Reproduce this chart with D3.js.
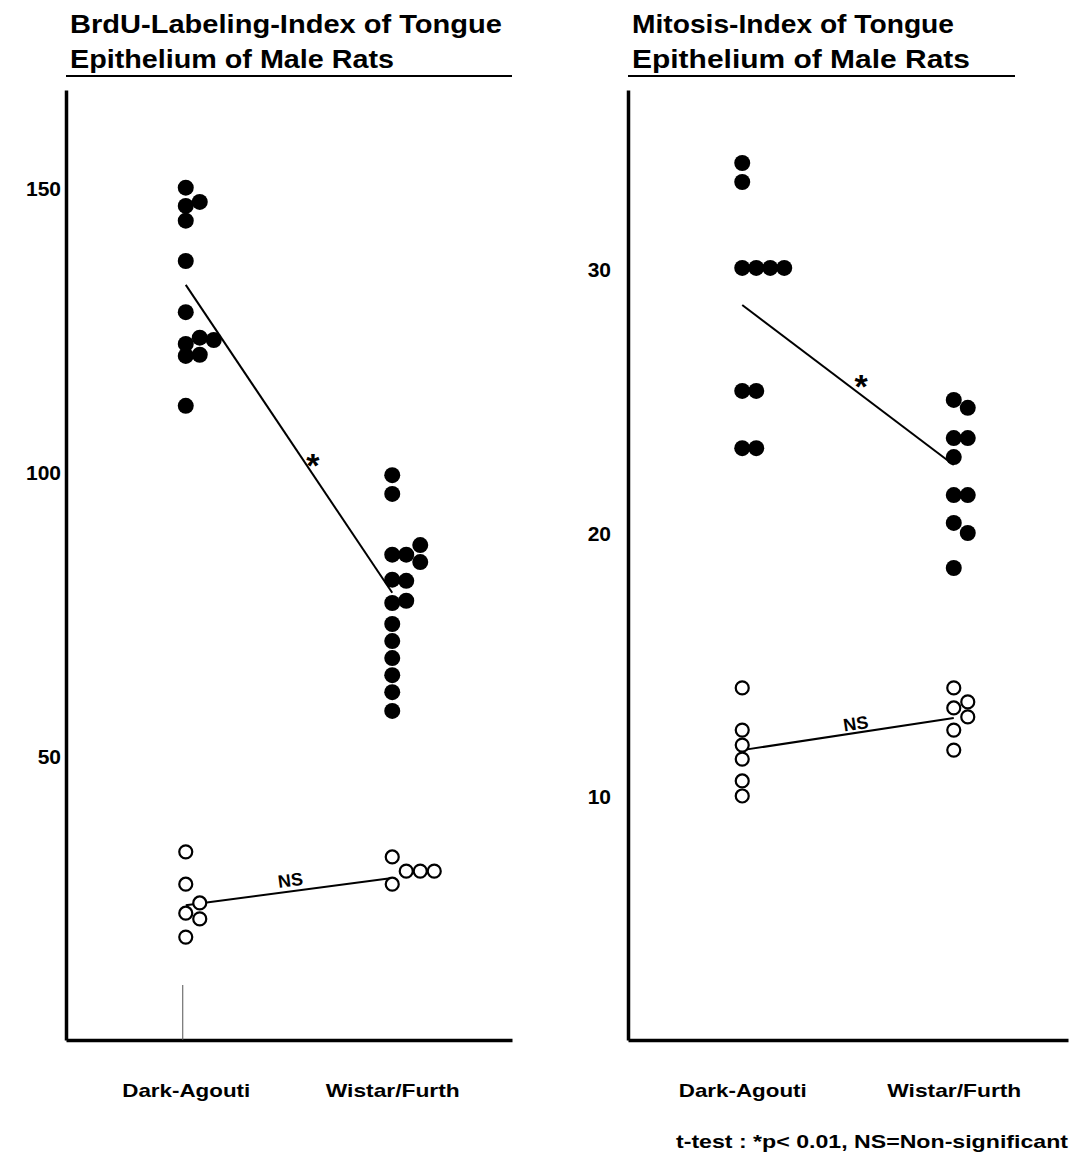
<!DOCTYPE html>
<html>
<head>
<meta charset="utf-8">
<script src="https://cdn.jsdelivr.net/npm/d3@7"></script>
<style>
  body { margin: 0; background: #fff; }
  text { font-family: 'Liberation Sans', Arial, sans-serif; font-weight: bold; fill: #000; }
</style>
</head>
<body>
<div id="chart"></div>
<script>
const CATEGORIES = ['Dark-Agouti', 'Wistar/Furth'];

// BrdU labeling index (filled = labeling, open = control group)
const BRDU_TICKS = [50, 100, 150];
const BRDU_DA_FILLED = [150.2, 147.0, 147.7, 144.4, 137.3, 128.3, 122.7, 120.6, 123.8, 120.8, 123.4, 111.8];
const BRDU_WF_FILLED = [99.6, 96.3, 85.6, 81.2, 77.1, 73.4, 70.4, 67.4, 64.4, 61.4, 58.1, 85.6, 81.0, 77.5, 87.3, 84.3];
const BRDU_DA_OPEN = [33.3, 27.6, 22.5, 18.3, 24.3, 21.5];
const BRDU_WF_OPEN = [32.4, 27.6, 29.9, 29.9, 29.9];
const BRDU_FILLED_MEANS = [133.1, 78.9];
const BRDU_OPEN_MEANS = [23.9, 28.7];

// Mitosis index
const MITOSIS_TICKS = [10, 20, 30];
const MITOSIS_DA_FILLED = [34.06, 33.34, 30.08, 30.08, 30.08, 30.08, 25.41, 25.41, 23.24, 23.24];
const MITOSIS_WF_FILLED = [25.07, 24.77, 23.62, 23.62, 22.90, 21.46, 21.46, 20.40, 20.02, 18.69];
const MITOSIS_DA_OPEN = [14.14, 12.54, 11.97, 11.44, 10.61, 10.04];
const MITOSIS_WF_OPEN = [14.14, 13.38, 12.54, 11.78, 13.61, 13.04];
const MITOSIS_FILLED_MEANS = [28.67, 22.6];
const MITOSIS_OPEN_MEANS = [11.78, 13.0];

const FOOTNOTE = 't-test :  *p< 0.01,  NS=Non-significant';

const WIDTH = 1072, HEIGHT = 1176;
const AXIS_TOP = 90, AXIS_BOTTOM = 1040;
const LANE = 14;
const R_FILLED = 8, R_OPEN = 6.5;
const XLABEL_WIDTHS = [128, 134];

const PANELS = [
  {
    title: ['BrdU-Labeling-Index of Tongue', 'Epithelium of Male Rats'],
    titleWidths: [432, 324],
    x0: 66, x1: 512, underline: [66, 512], pad: 0.58,
    domain: [0.18, 167.4],
    ticks: BRDU_TICKS, tickPad: 5,
    series: [
      { values: [BRDU_DA_FILLED, BRDU_WF_FILLED], means: BRDU_FILLED_MEANS, filled: true, gap: 11,
        label: '*', t: 0.616, dy: 2 },
      { values: [BRDU_DA_OPEN, BRDU_WF_OPEN], means: BRDU_OPEN_MEANS, filled: false, gap: 15,
        label: 'NS', t: 0.514, dy: -5 }
    ],
    stub: true
  },
  {
    title: ['Mitosis-Index of Tongue', 'Epithelium of Male Rats'],
    titleWidths: [322, 338],
    x0: 628, x1: 1068, underline: [628, 1015], pad: 0.54,
    domain: [0.78, 36.83],
    ticks: MITOSIS_TICKS, tickPad: 17,
    series: [
      { values: [MITOSIS_DA_FILLED, MITOSIS_WF_FILLED], means: MITOSIS_FILLED_MEANS, filled: true, gap: 11,
        label: '*', t: 0.562, dy: 3 },
      { values: [MITOSIS_DA_OPEN, MITOSIS_WF_OPEN], means: MITOSIS_OPEN_MEANS, filled: false, gap: 11,
        label: 'NS', t: 0.543, dy: -3 }
    ],
    stub: false
  }
];

// simple greedy dot-plot layout: push a dot one lane right while it collides
function swarm(values, y, gap) {
  const placed = [];
  values.forEach(v => {
    const py = y(v);
    let lane = 0;
    while (placed.some(p => p.lane === lane && Math.abs(p.y - py) < gap)) lane++;
    placed.push({ v, y: py, lane });
  });
  return placed;
}

const svg = d3.select('#chart').append('svg')
  .attr('width', WIDTH)
  .attr('height', HEIGHT);

PANELS.forEach(panel => {
  const g = svg.append('g');

  const x = d3.scalePoint()
    .domain(CATEGORIES)
    .range([panel.x0, panel.x1])
    .padding(panel.pad);
  const y = d3.scaleLinear()
    .domain(panel.domain)
    .range([AXIS_BOTTOM, AXIS_TOP]);

  // Title + underline
  panel.title.forEach((t, i) => {
    g.append('text')
      .attr('x', panel.underline[0] + 4)
      .attr('y', 33 + i * 35)
      .attr('font-size', 25)
      .attr('textLength', panel.titleWidths[i])
      .attr('lengthAdjust', 'spacingAndGlyphs')
      .text(t);
  });
  g.append('line')
    .attr('x1', panel.underline[0]).attr('x2', panel.underline[1])
    .attr('y1', 76).attr('y2', 76)
    .style('stroke', '#000').style('stroke-width', 2);

  // Axes
  const yAxis = g.append('g')
    .attr('transform', `translate(${panel.x0},0)`)
    .call(d3.axisLeft(y).tickValues(panel.ticks).tickSize(0).tickPadding(panel.tickPad).tickFormat(d3.format('d')));
  yAxis.select('.domain').style('stroke-width', 3.5);
  yAxis.selectAll('text')
    .attr('font-size', 21)
    .style('font-family', null);

  const xAxis = g.append('g')
    .attr('transform', `translate(0,${AXIS_BOTTOM})`)
    .call(d3.axisBottom(x).tickSize(0).tickPadding(44));
  xAxis.select('.domain').style('stroke-width', 3.5);
  xAxis.selectAll('text')
    .attr('font-size', 19)
    .attr('textLength', (d, i) => XLABEL_WIDTHS[i])
    .attr('lengthAdjust', 'spacingAndGlyphs')
    .style('font-family', null);

  if (panel.stub) {
    g.append('line')
      .attr('x1', x(CATEGORIES[0]) - 3).attr('x2', x(CATEGORIES[0]) - 3)
      .attr('y1', AXIS_BOTTOM - 55).attr('y2', AXIS_BOTTOM)
      .style('stroke', '#555').style('stroke-width', 1);
  }

  // Mean lines
  panel.series.forEach(s => {
    const p0 = [x(CATEGORIES[0]), y(s.means[0])];
    const p1 = [x(CATEGORIES[1]), y(s.means[1])];
    g.append('line')
      .attr('x1', p0[0]).attr('y1', p0[1])
      .attr('x2', p1[0]).attr('y2', p1[1])
      .style('stroke', '#000').style('stroke-width', 2);
    s.p0 = p0; s.p1 = p1;
  });

  // Dots
  panel.series.forEach(s => {
    CATEGORIES.forEach((c, ci) => {
      const dots = swarm(s.values[ci], y, s.gap);
      g.selectAll(null)
        .data(dots)
        .enter().append('circle')
          .attr('cx', d => x(c) + d.lane * LANE)
          .attr('cy', d => d.y)
          .attr('r', s.filled ? R_FILLED : R_OPEN)
          .style('fill', s.filled ? '#000' : '#fff')
          .style('stroke', '#000')
          .style('stroke-width', s.filled ? 0 : 2.2);
    });
  });

  // Significance labels
  panel.series.forEach(s => {
    const px = s.p0[0] + (s.p1[0] - s.p0[0]) * s.t;
    const py = s.p0[1] + (s.p1[1] - s.p0[1]) * s.t;
    if (s.filled) {
      g.append('text')
        .attr('x', px).attr('y', py + s.dy)
        .attr('font-size', 34)
        .attr('text-anchor', 'middle')
        .text(s.label);
    } else {
      const ang = Math.atan2(s.p1[1] - s.p0[1], s.p1[0] - s.p0[0]) * 180 / Math.PI;
      g.append('text')
        .attr('transform', `translate(${px},${py}) rotate(${ang})`)
        .attr('y', s.dy)
        .attr('font-size', 18)
        .attr('text-anchor', 'middle')
        .text(s.label);
    }
  });
});

svg.append('text')
  .attr('x', 1068)
  .attr('y', 1148)
  .attr('font-size', 19)
  .attr('text-anchor', 'end')
  .attr('textLength', 392)
  .attr('lengthAdjust', 'spacingAndGlyphs')
  .text(FOOTNOTE);
</script>
</body>
</html>
